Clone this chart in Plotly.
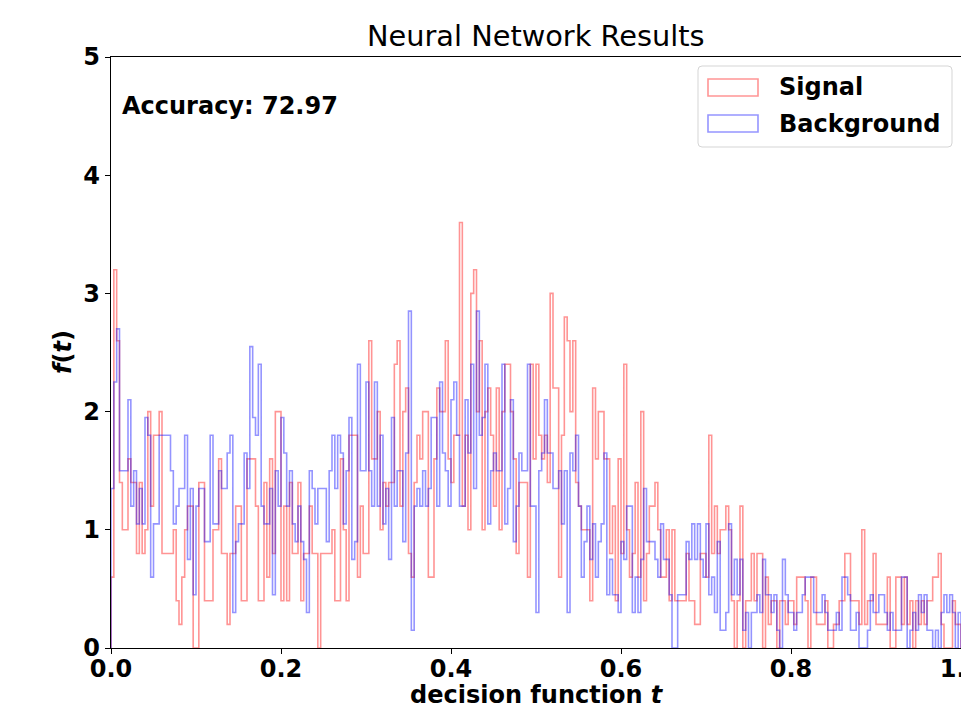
import numpy as np
import plotly.graph_objects as go

# ---------------- data ----------------
n_bins = 300
x_min, x_max = 0.0, 1.0

signal = [
    0.6, 3.2, 2.6, 1.4, 1.0, 1.0, 1.6, 1.4, 1.4, 0.8,
    1.4, 0.8, 1.0, 2.0, 1.2, 1.8, 1.8, 2.0, 0.8, 0.8,
    0.8, 0.8, 1.0, 0.4, 0.2, 0.6, 1.0, 1.2, 1.2, 0.0,
    0.0, 1.4, 1.4, 0.4, 0.4, 0.4, 1.0, 1.0, 1.6, 0.8,
    0.8, 0.2, 0.8, 0.8, 1.2, 1.2, 0.4, 0.4, 1.6, 1.6,
    1.6, 1.2, 0.4, 0.4, 1.4, 0.6, 1.6, 0.8, 2.0, 2.0,
    0.4, 1.2, 0.4, 1.4, 0.8, 0.8, 1.4, 0.4, 0.8, 0.8,
    1.2, 0.8, 0.8, 0.0, 0.8, 0.8, 0.8, 0.8, 1.0, 0.4,
    0.4, 1.6, 1.0, 0.4, 1.8, 1.8, 1.8, 0.6, 1.2, 0.8,
    0.8, 2.6, 1.6, 1.6, 2.0, 1.0, 1.4, 1.2, 1.4, 1.4,
    2.4, 2.6, 1.2, 2.0, 2.2, 0.8, 0.6, 1.4, 1.8, 1.6,
    2.0, 2.0, 0.6, 0.6, 1.6, 2.2, 2.0, 2.0, 2.6, 1.6,
    1.4, 1.8, 1.8, 3.6, 1.2, 1.8, 1.0, 3.0, 3.2, 2.0,
    2.6, 1.0, 2.0, 2.2, 1.8, 1.2, 2.2, 1.0, 2.0, 2.4,
    2.4, 2.0, 1.6, 0.8, 1.4, 1.4, 1.4, 0.6, 2.4, 1.6,
    2.4, 1.8, 1.6, 1.8, 1.4, 3.0, 2.2, 2.2, 0.6, 1.8,
    2.8, 2.6, 2.0, 2.6, 1.4, 1.2, 1.0, 1.0, 1.0, 0.4,
    2.2, 1.6, 2.0, 2.0, 1.6, 1.6, 0.8, 1.2, 0.4, 1.6,
    0.8, 2.4, 1.0, 0.6, 0.8, 1.4, 0.6, 2.0, 0.4, 0.8,
    1.2, 1.2, 1.4, 1.0, 0.6, 0.6, 1.0, 0.4, 1.0, 0.4,
    0.4, 0.4, 0.4, 0.8, 0.4, 0.4, 0.2, 0.2, 0.8, 0.8,
    0.6, 1.8, 0.8, 1.2, 0.8, 1.0, 1.0, 1.2, 1.0, 0.4,
    0.0, 0.4, 1.2, 0.0, 0.4, 0.4, 0.8, 0.4, 0.8, 0.8,
    0.0, 0.6, 0.2, 0.4, 0.4, 0.0, 0.4, 0.4, 0.2, 0.4,
    0.4, 0.2, 0.6, 0.6, 0.6, 0.4, 0.0, 0.6, 0.6, 0.2,
    0.2, 0.2, 0.4, 0.0, 0.0, 0.2, 0.2, 0.4, 0.4, 0.8,
    0.8, 0.4, 0.4, 0.4, 0.2, 1.0, 0.2, 0.4, 0.4, 0.8,
    0.2, 0.2, 0.2, 0.2, 0.6, 0.0, 0.0, 0.6, 0.6, 0.2,
    0.6, 0.2, 0.4, 0.0, 0.4, 0.2, 0.4, 0.2, 0.4, 0.4,
    0.6, 0.6, 0.8, 0.2, 0.0, 0.0, 0.0, 0.4, 0.2, 0.2,
]

background = [
    1.35, 2.25, 2.7, 1.5, 1.5, 1.5, 2.1, 1.2, 1.5, 1.05,
    1.35, 1.05, 1.95, 1.8, 0.6, 1.05, 1.05, 1.8, 1.8, 1.8,
    1.8, 1.5, 1.05, 1.2, 1.35, 1.35, 1.8, 0.75, 1.35, 0.45,
    1.2, 1.35, 1.35, 0.9, 0.9, 1.8, 1.05, 1.05, 1.5, 1.35,
    1.35, 1.65, 1.8, 0.3, 0.9, 1.05, 1.05, 1.65, 1.35, 2.55,
    1.95, 1.8, 2.4, 1.2, 1.05, 1.05, 1.35, 0.45, 1.5, 1.2,
    1.95, 1.65, 1.2, 1.5, 1.05, 0.9, 1.2, 0.9, 0.75, 0.3,
    1.5, 1.35, 1.05, 1.35, 1.35, 1.35, 0.9, 1.5, 1.8, 1.35,
    1.8, 1.65, 1.05, 1.5, 1.95, 0.75, 0.9, 2.4, 1.5, 1.5,
    2.25, 1.5, 1.2, 2.25, 1.2, 1.8, 1.05, 1.35, 0.75, 1.95,
    1.2, 1.5, 1.5, 0.9, 1.65, 2.85, 0.15, 1.2, 1.35, 1.2,
    1.5, 1.2, 1.35, 1.95, 1.95, 1.2, 2.25, 1.65, 1.5, 1.2,
    2.1, 2.25, 1.8, 1.2, 1.2, 2.1, 1.65, 2.4, 1.35, 2.85,
    1.8, 1.95, 2.4, 1.05, 1.5, 1.65, 1.5, 1.5, 2.4, 1.05,
    1.35, 2.1, 0.9, 1.2, 1.65, 1.5, 1.5, 2.4, 1.2, 1.2,
    0.3, 1.5, 1.65, 2.1, 1.65, 1.65, 1.35, 1.35, 1.5, 1.05,
    1.5, 0.3, 1.65, 1.5, 1.8, 1.2, 0.6, 0.9, 1.2, 0.75,
    1.05, 0.6, 0.9, 1.05, 1.65, 0.45, 0.75, 0.45, 0.45, 0.3,
    0.9, 0.75, 1.2, 1.2, 0.3, 0.6, 0.3, 0.75, 1.35, 0.9,
    0.9, 0.9, 0.75, 0.6, 1.05, 0.75, 0.75, 0.45, 0.0, 0.0,
    0.45, 0.45, 0.45, 0.9, 0.75, 1.05, 0.75, 1.05, 0.75, 0.6,
    1.05, 0.45, 0.6, 0.3, 0.9, 0.15, 0.15, 0.3, 1.05, 0.45,
    0.75, 0.45, 0.75, 0.15, 0.3, 0.0, 0.3, 0.3, 0.45, 0.3,
    0.75, 0.45, 0.45, 0.3, 0.45, 0.15, 0.0, 0.75, 0.45, 0.3,
    0.3, 0.15, 0.3, 0.3, 0.45, 0.6, 0.6, 0.6, 0.3, 0.3,
    0.3, 0.45, 0.3, 0.15, 0.15, 0.15, 0.3, 0.15, 0.6, 0.6,
    0.45, 0.15, 0.15, 0.3, 0.0, 0.0, 0.0, 0.15, 0.45, 0.3,
    0.3, 0.45, 0.45, 0.3, 0.15, 0.3, 0.15, 0.15, 0.15, 0.6,
    0.6, 0.0, 0.15, 0.3, 0.15, 0.45, 0.3, 0.45, 0.15, 0.15,
    0.0, 0.15, 0.0, 0.3, 0.45, 0.3, 0.45, 0.3, 0.0, 0.3,
]

series_names = ["Signal", "Background"]
series_colors = ["rgba(255,0,0,0.42)", "rgba(0,0,255,0.42)"]

x_tickvals = [0.0, 0.2, 0.4, 0.6, 0.8, 1.0]
x_ticktext = ["0.0", "0.2", "0.4", "0.6", "0.8", "1.0"]
y_tickvals = [0, 1, 2, 3, 4, 5]
y_ticktext = ["0", "1", "2", "3", "4", "5"]

title_text = "Neural Network Results"
xlabel = "<b>decision function <i>t</i></b>"
ylabel = "<b><i>f</i>(<i>t</i>)</b>"
accuracy_text = "<b>Accuracy: 72.97</b>"

# ---------------- figure ----------------
FONT = "DejaVu Sans"
W_FIG, H_FIG = 961, 712
L, R, T, B = 111, 0, 57, 64
PW, PH = W_FIG - L - R, H_FIG - T - B

edges = np.linspace(x_min, x_max, n_bins + 1)


def step_xy(vals):
    xs = [edges[0]] + list(edges[:-1]) + [edges[-1], edges[-1]]
    ys = [0.0] + list(vals) + [vals[-1], 0.0]
    return xs, ys


fig = go.Figure()
for vals, name, col in zip([signal, background], series_names, series_colors):
    xs, ys = step_xy(vals)
    fig.add_trace(go.Scatter(x=xs, y=ys, mode="lines", name=name,
                             line=dict(color=col, width=1.6, shape="hv"),
                             showlegend=False, hoverinfo="skip"))


def pp(px, py):
    return (px - L) / PW, (H_FIG - B - py) / PH


def rounded_rect_path(x0, y0, x1, y1, r):
    pts = []
    a = pp(x0 + r, y0); pts.append(f"M{a[0]},{a[1]}")
    a = pp(x1 - r, y0); pts.append(f"L{a[0]},{a[1]}")
    c = pp(x1, y0); a = pp(x1, y0 + r); pts.append(f"Q{c[0]},{c[1]} {a[0]},{a[1]}")
    a = pp(x1, y1 - r); pts.append(f"L{a[0]},{a[1]}")
    c = pp(x1, y1); a = pp(x1 - r, y1); pts.append(f"Q{c[0]},{c[1]} {a[0]},{a[1]}")
    a = pp(x0 + r, y1); pts.append(f"L{a[0]},{a[1]}")
    c = pp(x0, y1); a = pp(x0, y1 - r); pts.append(f"Q{c[0]},{c[1]} {a[0]},{a[1]}")
    a = pp(x0, y0 + r); pts.append(f"L{a[0]},{a[1]}")
    c = pp(x0, y0); a = pp(x0 + r, y0); pts.append(f"Q{c[0]},{c[1]} {a[0]},{a[1]}")
    pts.append("Z")
    return " ".join(pts)


shapes = []
annotations = []

# legend box
shapes.append(dict(type="path", xref="paper", yref="paper",
                   path=rounded_rect_path(698, 66, 952, 147, 4),
                   fillcolor="rgba(255,255,255,0.8)",
                   line=dict(color="#d5d5d5", width=1)))
legend_rows = [(79, 96, 87), (115, 132, 124)]
for (ya, yb, yc), name, col in zip(legend_rows, series_names, series_colors):
    a = pp(708, yb); b = pp(758, ya)
    shapes.append(dict(type="rect", xref="paper", yref="paper",
                       x0=a[0], y0=a[1], x1=b[0], y1=b[1],
                       line=dict(color=col, width=1.6), fillcolor="rgba(0,0,0,0)"))
    t = pp(777, yc)
    annotations.append(dict(xref="paper", yref="paper", x=t[0], y=t[1],
                            xanchor="left", yanchor="middle", showarrow=False,
                            text=f"<b>{name}</b>",
                            font=dict(family=FONT, size=24, color="black")))

# title
annotations.append(dict(xref="paper", yref="paper", x=0.5, y=1, yanchor="bottom",
                        xanchor="center", yshift=2, showarrow=False, text=title_text,
                        font=dict(family=FONT, size=28.8, color="black")))
# accuracy text
t = pp(120, 106)
annotations.append(dict(xref="paper", yref="paper", x=t[0], y=t[1], xanchor="left",
                        yanchor="middle", showarrow=False, text=accuracy_text,
                        font=dict(family=FONT, size=24, color="black")))
# axis labels
t = pp(537, 695)
annotations.append(dict(xref="paper", yref="paper", x=t[0], y=t[1], xanchor="center",
                        yanchor="middle", showarrow=False, text=xlabel,
                        font=dict(family=FONT, size=24, color="black")))
t = pp(63, 352)
annotations.append(dict(xref="paper", yref="paper", x=t[0], y=t[1], xanchor="center",
                        yanchor="middle", showarrow=False, text=ylabel, textangle=-90,
                        font=dict(family=FONT, size=24, color="black")))

fig.update_layout(
    width=W_FIG, height=H_FIG,
    margin=dict(l=L, r=R, t=T, b=B, pad=0),
    paper_bgcolor="white", plot_bgcolor="white",
    showlegend=False,
    shapes=shapes, annotations=annotations,
    xaxis=dict(range=[x_min, x_max], tickvals=x_tickvals, ticktext=x_ticktext,
               showgrid=False, zeroline=False, showline=True, linecolor="black",
               linewidth=1.3, mirror=True, ticks="outside", ticklen=5, tickwidth=1.1,
               tickcolor="black", automargin=False, ticklabeloverflow="allow",
               ticklabelstandoff=-6,
               tickfont=dict(family=FONT, size=24, color="black", weight="bold")),
    yaxis=dict(range=[0, 5], tickvals=y_tickvals, ticktext=y_ticktext,
               showgrid=False, zeroline=False, showline=True, linecolor="black",
               linewidth=1.3, ticks="outside", ticklen=5, tickwidth=1.1,
               tickcolor="black", automargin=False,
               tickfont=dict(family=FONT, size=24, color="black", weight="bold")),
)

fig.write_html("out.html")
